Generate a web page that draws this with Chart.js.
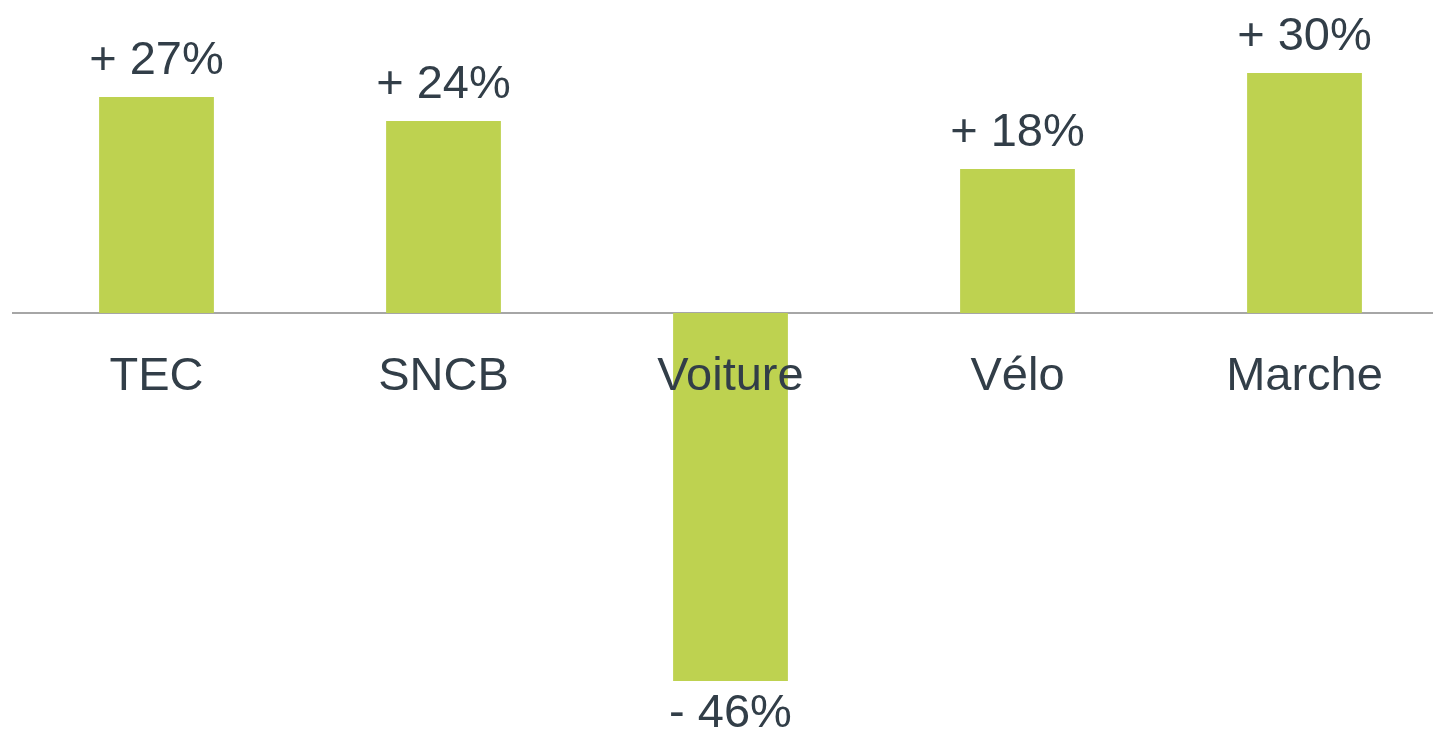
<!DOCTYPE html>
<html>
<head>
<meta charset="utf-8">
<script src="https://cdn.jsdelivr.net/npm/chart.js@4/dist/chart.umd.min.js"></script>
<style>
  html, body { margin: 0; padding: 0; background: #fff; overflow: hidden; }
  #wrap { position: relative; width: 1448px; height: 730px; }
</style>
</head>
<body>
<div id="wrap"><canvas id="modeChart"></canvas></div>
<script>
const modes = ["TEC", "SNCB", "Voiture", "Vélo", "Marche"];
const changes = [27, 24, -46, 18, 30];

const textColor = "#323E48";
const barColor = "#BED250";
const fontFamily = "'Liberation Sans', Arial, sans-serif";

// value labels "+ 27%" above / below each bar
const valueLabels = {
  id: "valueLabels",
  afterDatasetsDraw(chart) {
    const ctx = chart.ctx;
    const meta = chart.getDatasetMeta(0);
    ctx.save();
    ctx.font = "47px " + fontFamily;
    ctx.fillStyle = textColor;
    ctx.textAlign = "center";
    ctx.textBaseline = "alphabetic";
    meta.data.forEach((bar, i) => {
      const v = changes[i];
      const txt = (v >= 0 ? "+ " : "- ") + Math.abs(v) + "%";
      const y = v >= 0 ? bar.y - 23 : bar.y + 46;
      ctx.fillText(txt, bar.x, y);
    });
    ctx.restore();
  }
};

new Chart(document.getElementById("modeChart"), {
  type: "bar",
  data: {
    labels: modes,
    datasets: [{
      data: changes,
      backgroundColor: barColor,
      barPercentage: 0.4,
      categoryPercentage: 1
    }]
  },
  options: {
    responsive: true,
    maintainAspectRatio: false,
    animation: false,
    layout: { padding: { top: 73, bottom: 49, left: 13, right: 0 } },
    plugins: {
      legend: { display: false },
      tooltip: { enabled: false }
    },
    scales: {
      x: {
        position: { y: 0 },
        grid: { display: false, drawTicks: false },
        border: { display: true, color: "#A6A6A6", width: 2 },
        ticks: {
          z: 1, // labels over the bars, like "Voiture"
          color: textColor,
          font: { family: fontFamily, size: 47 },
          padding: 36,
          maxRotation: 0
        }
      },
      y: {
        display: false,
        min: -46,
        max: 30
      }
    }
  },
  plugins: [valueLabels]
});
</script>
</body>
</html>
